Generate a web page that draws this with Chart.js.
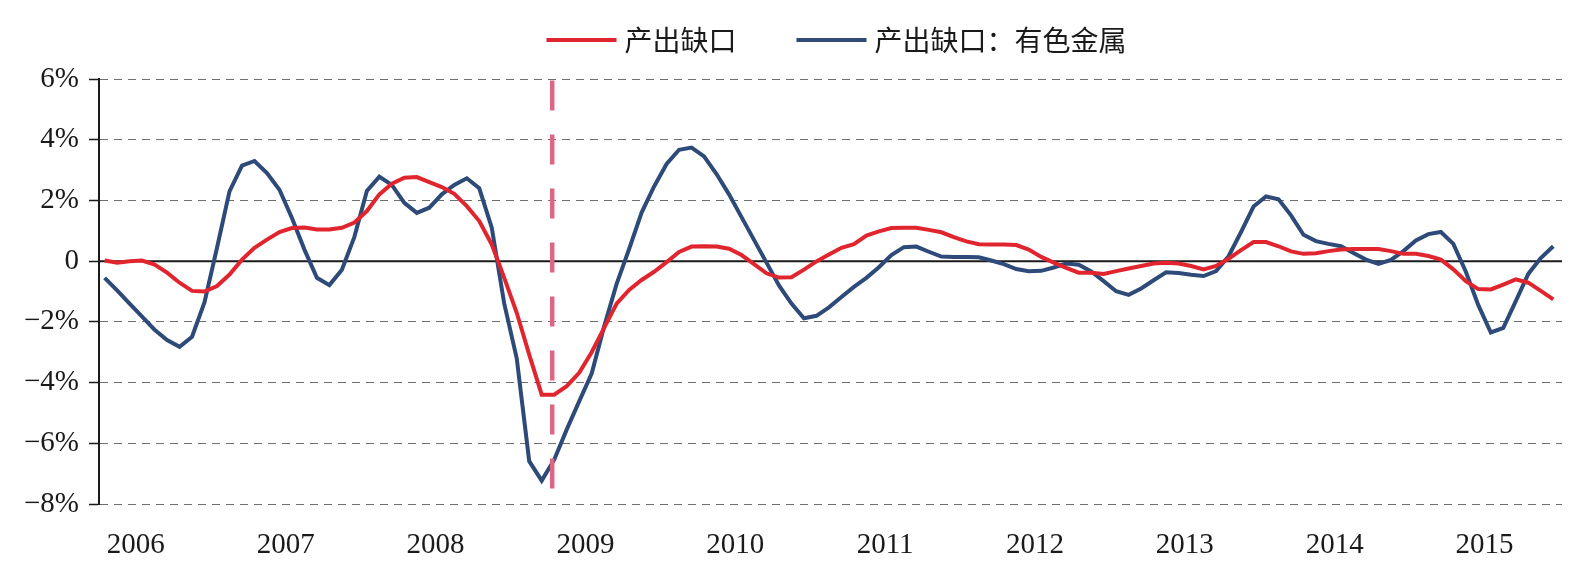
<!DOCTYPE html>
<html lang="zh-CN">
<head>
<meta charset="UTF-8" />
<title>产出缺口</title>
<script src="https://cdn.jsdelivr.net/npm/chart.js"></script>
<style>
  html, body { margin: 0; padding: 0; background: #fff; }
  #wrap { position: relative; width: 1586px; height: 566px; }
</style>
</head>
<body>
<div id="wrap"><canvas id="myChart"></canvas></div>
<script>
  // monthly series, Apr 2006 - Dec 2015, values in %
  var startYear = 2006;
  var startMonth = 4;
  var years = ["2006", "2007", "2008", "2009", "2010", "2011", "2012", "2013", "2014", "2015"];
  var seriesNames = ["产出缺口", "产出缺口：有色金属"];

  var outputGap = [
    0.02, -0.05, 0.00, 0.02, -0.11, -0.38, -0.71, -0.98, -1.00, -0.82,
    -0.44, 0.05, 0.44, 0.71, 0.96, 1.09, 1.11, 1.04, 1.04, 1.10,
    1.27, 1.65, 2.20, 2.55, 2.75, 2.77, 2.60, 2.44, 2.22, 1.81,
    1.32, 0.55, -0.55, -1.70, -3.08, -4.40, -4.40, -4.12, -3.68, -3.00,
    -2.20, -1.40, -0.95, -0.62, -0.35, -0.03, 0.30, 0.48, 0.49, 0.48,
    0.41, 0.20, -0.10, -0.40, -0.54, -0.53, -0.28, -0.01, 0.22, 0.44,
    0.56, 0.84, 0.98, 1.09, 1.10, 1.10, 1.03, 0.95, 0.79, 0.65,
    0.56, 0.55, 0.55, 0.53, 0.38, 0.14, -0.05, -0.22, -0.38, -0.38,
    -0.42, -0.33, -0.24, -0.16, -0.08, -0.05, -0.08, -0.16, -0.27, -0.16,
    0.08, 0.36, 0.63, 0.63, 0.49, 0.32, 0.24, 0.26, 0.33, 0.38,
    0.40, 0.40, 0.40, 0.33, 0.24, 0.24, 0.17, 0.05, -0.27, -0.66,
    -0.92, -0.93, -0.77, -0.60, -0.71, -0.98, -1.26
  ];

  var metalsGap = [
    -0.55, -0.96, -1.40, -1.83, -2.26, -2.60, -2.82, -2.49, -1.35, 0.44,
    2.30, 3.15, 3.30, 2.90, 2.35, 1.42, 0.38, -0.55, -0.79, -0.28,
    0.80, 2.31, 2.78, 2.51, 1.92, 1.59, 1.76, 2.20, 2.51, 2.73,
    2.40, 1.10, -1.40, -3.20, -6.59, -7.23, -6.54, -5.55, -4.62, -3.70,
    -2.15, -0.75, 0.40, 1.60, 2.46, 3.20, 3.67, 3.74, 3.45, 2.87,
    2.20, 1.45, 0.70, -0.05, -0.80, -1.40, -1.88, -1.80, -1.52, -1.18,
    -0.85, -0.55, -0.20, 0.20, 0.46, 0.48, 0.31, 0.15, 0.14, 0.14,
    0.13, 0.02, -0.10, -0.26, -0.33, -0.32, -0.21, -0.08, -0.12, -0.34,
    -0.66, -0.99, -1.11, -0.90, -0.63, -0.37, -0.39, -0.45, -0.49, -0.33,
    0.16, 0.96, 1.80, 2.13, 2.04, 1.51, 0.87, 0.66, 0.57, 0.49,
    0.27, 0.05, -0.09, 0.04, 0.33, 0.68, 0.89, 0.96, 0.57, -0.35,
    -1.45, -2.35, -2.20, -1.32, -0.42, 0.10, 0.49
  ];

  var markerMonth = "2009-04";

  var months = [];
  for (var k = 0; k < outputGap.length; k++) {
    var m = startMonth - 1 + k;
    var mm = (m % 12) + 1;
    months.push(startYear + Math.floor(m / 12) + "-" + (mm < 10 ? "0" + mm : mm));
  }

  function toPoints(values) {
    return values.map(function (v, i) {
      return { x: i, y: v };
    });
  }

  // solid zero line under the series
  var zeroLine = {
    id: "zeroLine",
    beforeDatasetsDraw: function (chart) {
      var ctx = chart.ctx;
      var area = chart.chartArea;
      var y = chart.scales.y.getPixelForValue(0);
      ctx.save();
      ctx.strokeStyle = "#1a1a1a";
      ctx.lineWidth = 2;
      ctx.beginPath();
      ctx.moveTo(area.left, y);
      ctx.lineTo(area.right, y);
      ctx.stroke();
      ctx.restore();
    }
  };

  // dashed vertical marker on top of the series
  var markerLine = {
    id: "markerLine",
    afterDatasetsDraw: function (chart) {
      var ctx = chart.ctx;
      var x = chart.scales.x.getPixelForValue(months.indexOf(markerMonth)) - 2;
      ctx.save();
      ctx.strokeStyle = "#dc6683";
      ctx.lineWidth = 4.5;
      ctx.setLineDash([30, 24]);
      ctx.beginPath();
      ctx.moveTo(x, chart.scales.y.getPixelForValue(5.95));
      ctx.lineTo(x, chart.scales.y.getPixelForValue(-7.5));
      ctx.stroke();
      ctx.restore();
    }
  };

  // legend row above the plot
  var topLegend = {
    id: "topLegend",
    afterDraw: function (chart) {
      var ctx = chart.ctx;
      var area = chart.chartArea;
      var lineLen = 70, gap = 8, spacing = 60, y = 40;
      ctx.save();
      ctx.font = "28px 'Noto Sans CJK SC'";
      ctx.textBaseline = "middle";
      var total = 0;
      chart.data.datasets.forEach(function (ds, i) {
        total += lineLen + gap + ctx.measureText(ds.label).width + (i > 0 ? spacing : 0);
      });
      var x = (area.left + area.right) / 2 - total / 2 + 6;
      chart.data.datasets.forEach(function (ds) {
        ctx.fillStyle = ds.borderColor;
        ctx.fillRect(x, y - 2, lineLen, 4);
        x += lineLen + gap;
        ctx.fillStyle = "#1a1a1a";
        ctx.fillText(ds.label, x, y);
        x += ctx.measureText(ds.label).width + spacing;
      });
      ctx.restore();
    }
  };

  const ctx = document.getElementById("myChart");
  new Chart(ctx, {
    type: "line",
    data: {
      datasets: [
        {
          label: seriesNames[0],
          data: toPoints(outputGap),
          borderColor: "#e1252f",
          backgroundColor: "#e1252f",
          borderWidth: 4,
          pointRadius: 0,
          tension: 0,
        },
        {
          label: seriesNames[1],
          data: toPoints(metalsGap),
          borderColor: "#2d4a78",
          backgroundColor: "#2d4a78",
          borderWidth: 4,
          pointRadius: 0,
          tension: 0,
        },
      ],
    },
    options: {
      responsive: true,
      maintainAspectRatio: false,
      animation: false,
      layout: { padding: { top: 79, right: 24, left: 0, bottom: 0 } },
      plugins: {
        legend: { display: false },
        tooltip: { enabled: false },
      },
      scales: {
        x: {
          type: "linear",
          min: -0.45,
          max: outputGap.length - 1 + 0.7,
          grid: { display: false },
          border: { display: false },
          afterBuildTicks: function (scale) {
            scale.ticks = years.map(function (y) {
              return { value: (Number(y) - startYear) * 12 - (startMonth - 1) + 5.5 };
            });
          },
          afterFit: function (scale) {
            scale.height = 62;
          },
          ticks: {
            autoSkip: false,
            maxRotation: 0,
            padding: 16,
            color: "#1a1a1a",
            font: { family: "'Liberation Serif', serif", size: 29 },
            callback: function (value, index) {
              return years[index];
            },
          },
        },
        y: {
          min: -8,
          max: 6,
          afterFit: function (scale) {
            scale.width = 99;
          },
          grid: {
            color: "#6f6f6f",
            lineWidth: 1,
            tickColor: "#1a1a1a",
            tickWidth: 1.5,
            tickLength: 10,
            tickBorderDash: [],
          },
          border: { display: true, color: "#1a1a1a", width: 2, dash: [8, 6] },
          ticks: {
            stepSize: 2,
            padding: 10,
            color: "#1a1a1a",
            font: { family: "'Liberation Serif', serif", size: 29 },
            callback: function (v) {
              if (v === 0) return "0";
              return (v < 0 ? "\u2212" + Math.abs(v) : v) + "%";
            },
          },
        },
      },
    },
    plugins: [zeroLine, markerLine, topLegend],
  });
</script>
</body>
</html>
